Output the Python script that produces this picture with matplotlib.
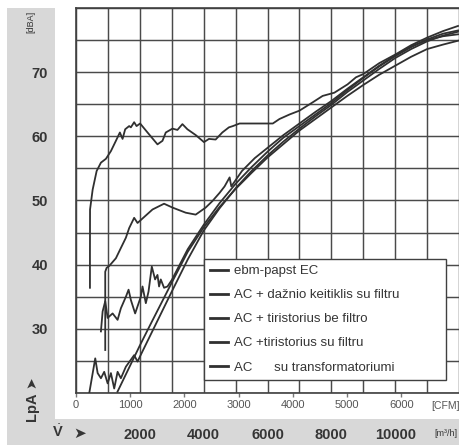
import numpy as np
import matplotlib
matplotlib.use("Agg")
import matplotlib.pyplot as plt
from matplotlib.patches import Rectangle

plt.rcParams['font.family'] = ['Liberation Sans', 'DejaVu Sans']
plt.rcParams['mathtext.fontset'] = 'custom'
plt.rcParams['mathtext.rm'] = 'Liberation Sans'
plt.rcParams['mathtext.bf'] = 'Liberation Sans:bold'

# ---------------- data (x in m3/h, y in dBA) ----------------
labels = ["ebm-papst EC",
          "AC + dažnio keitiklis su filtru",
          "AC + tiristorius be filtro",
          "AC +tiristorius su filtru",
          "AC      su transformatoriumi"]

ec_x = [1300, 2000, 2344, 3000, 3500, 4000, 4500, 5000, 5500, 6000, 6500, 7000,
        7500, 8000, 8500, 9000, 9500, 10000, 10500, 11000, 11500, 11970]
ec_y = [20.2, 27.4, 30.8, 37.2, 42.0, 45.8, 49.0, 51.8, 54.3, 56.7, 58.8, 60.9,
        62.7, 64.5, 66.3, 68.0, 69.6, 71.0, 72.4, 73.6, 74.3, 74.9]

fc_x = [781, 834, 916, 991, 1147, 1303, 1406, 1563, 1647, 1719, 1853, 2031, 2084,
        2188, 2272, 2375, 2478, 2553, 2603, 2656, 2759, 2866, 3000, 3500, 4000,
        4500, 5000, 5500, 6000, 6500, 7000, 7500, 8000, 8500, 9000, 9500, 10000,
        10500, 11000, 11500, 11970]
fc_y = [29.6, 32.7, 34.3, 31.7, 32.4, 31.4, 33.2, 35.0, 36.1, 34.5, 32.4, 35.0, 36.6,
        34.0, 35.8, 39.7, 37.7, 38.4, 36.6, 37.7, 36.4, 36.6, 37.6, 42.4, 46.2,
        49.6, 52.6, 55.2, 57.6, 59.8, 61.6, 63.4, 65.2, 67.2, 69.1, 70.9, 72.5,
        73.9, 75.1, 76.0, 76.5]

tb_x = [437, 437, 440, 522, 647, 781, 938, 1094, 1250, 1375, 1459, 1541, 1666,
        1719, 1822, 1897, 2009, 2241, 2553, 2709, 2813, 3022, 3178, 3334, 3491,
        3750, 4009, 4166, 4375, 4584, 4791, 4916, 5125, 6166, 6375, 6688, 7000,
        7416, 7728, 8094, 8509, 8772, 9000, 9500, 10022, 10500, 11009, 11500, 11969]
tb_y = [36.4, 42.0, 48.6, 51.7, 54.6, 55.9, 56.5, 57.7, 59.3, 60.6, 59.6, 61.1, 61.6,
        61.4, 62.2, 61.6, 62.0, 60.6, 58.75, 59.3, 60.6, 61.2, 61.0, 61.9, 61.1,
        60.2, 59.1, 59.6, 59.5, 60.6, 61.4, 61.6, 62.0, 62.0, 62.7, 63.4, 64.0,
        65.3, 66.3, 66.8, 68.1, 69.2, 69.7, 71.4, 72.8, 74.2, 75.4, 76.4, 77.2]

ts_x = [916, 916, 959, 1041, 1250, 1406, 1563, 1666, 1822, 1928, 2397, 2759, 3022,
        3438, 3750, 4063, 4272, 4500, 4656, 4813, 4866, 5200, 5600, 6000, 6500,
        7000, 7500, 8000, 8500, 9000, 9500, 10000, 10500, 11000, 11500, 11970]
ts_y = [26.7, 38.9, 39.5, 39.8, 41.0, 42.6, 44.2, 45.7, 47.3, 46.5, 48.6, 49.5, 48.9,
        48.1, 47.8, 48.9, 49.9, 51.2, 52.2, 53.6, 52.2, 54.6, 56.6, 58.2, 60.2,
        62.0, 63.8, 65.5, 67.4, 69.2, 71.0, 72.6, 74.0, 75.0, 75.6, 75.9]

tr_x = [416, 603, 678, 781, 884, 991, 1094, 1197, 1303, 1406, 1563, 1822, 1928,
        2084, 3000, 3500, 4000, 4500, 5000, 5500, 6000, 6500, 7000, 7500, 8000,
        8500, 9000, 9500, 10000, 10500, 11000, 11500, 11970]
tr_y = [20.0, 25.4, 23.1, 22.3, 23.3, 21.5, 23.1, 20.7, 23.3, 22.3, 24.1, 25.9, 24.9,
        26.5, 35.8, 40.8, 45.3, 48.8, 51.9, 54.6, 57.0, 59.2, 61.2, 63.1, 64.9,
        66.9, 68.7, 70.5, 72.2, 73.6, 74.8, 75.7, 76.3]

ytick_dba = [30, 40, 50, 60, 70]
xtick_m3h = [2000, 4000, 6000, 8000, 10000]
xtick_cfm = [0, 1000, 2000, 3000, 4000, 5000, 6000]
CFM_TO_M3H = 1.699

# ---------------- figure ----------------
W, H = 459, 445
fig = plt.figure(figsize=(W / 100, H / 100), dpi=100)
fig.patch.set_facecolor('white')

gray = '#d8d8d8'
txt = '#353535'
fig.patches.append(Rectangle((7 / W, 26 / H), 48 / W, 411 / H, transform=fig.transFigure,
                             facecolor=gray, edgecolor='none', zorder=-5))
fig.patches.append(Rectangle((7 / W, 0), (W - 7) / W, 26 / H, transform=fig.transFigure,
                             facecolor=gray, edgecolor='none', zorder=-5))

ax = fig.add_axes([76 / W, 52 / H, 383 / W, 385 / H])
ax.set_xlim(0, 11969)
ax.set_ylim(20, 80)

line_col = '#303030'
series = [(ec_x, ec_y), (fc_x, fc_y), (tb_x, tb_y), (ts_x, ts_y), (tr_x, tr_y)]
handles = []
for (xs, ys), lab in zip(series, labels):
    h, = ax.plot(xs, ys, color=line_col, lw=1.3, label=lab, zorder=3)
    handles.append(h)

# grid
ax.set_xticks(np.arange(0, 12001, 1000))
ax.set_yticks(np.arange(20, 81, 5))
ax.grid(True, color='#4a4a4a', lw=1.05, zorder=1)
ax.set_axisbelow(True)

ax.set_yticklabels([str(v) if v in ytick_dba else '' for v in np.arange(20, 81, 5)],
                   fontweight='bold')
ax.set_xticklabels([str(v) if v in xtick_m3h else '' for v in np.arange(0, 12001, 1000)],
                   fontweight='bold')
ax.tick_params(axis='y', length=0, pad=20, labelsize=10.5, labelcolor=txt)
ax.tick_params(axis='x', length=0, pad=25, labelsize=10.5, labelcolor=txt)
for s in ax.spines.values():
    s.set_color('#404040')
    s.set_linewidth(1.2)
ax.spines['right'].set_visible(False)

sec = ax.secondary_xaxis('bottom', functions=(lambda m: m / CFM_TO_M3H,
                                              lambda c: c * CFM_TO_M3H))
sec.set_xticks(xtick_cfm)
sec.set_xticklabels([str(v) for v in xtick_cfm])
sec.tick_params(axis='x', length=3, width=1, color='#777777', pad=2,
                labelsize=8, labelcolor='#555555')
sec.spines['bottom'].set_visible(False)

leg = ax.legend(handles=handles, labels=labels, loc='upper left',
                bbox_to_anchor=(128 / 383, 134 / 385, 242 / 383, 0.0001),
                mode='expand', fontsize=9.5, frameon=True, fancybox=False,
                edgecolor='#404040', framealpha=1, borderpad=0.45,
                labelspacing=0.9, handlelength=1.35, handletextpad=0.5,
                borderaxespad=0)
leg.get_frame().set_linewidth(1.0)
for t in leg.get_texts():
    t.set_color(txt)
for l in leg.get_lines():
    l.set_linewidth(2.0)

# extra texts
fig.text(446 / W, 1 - 406 / H, '[CFM]', fontsize=7.5, color='#555555', ha='center', va='center')
fig.text(446 / W, 1 - 433 / H, '[m³/h]', fontsize=6.5, color=txt, ha='center', va='center')
fig.text(31 / W, 1 - 22 / H, '[dBA]', fontsize=6.5, color=txt, ha='center', va='center',
         rotation=90)
fig.text(32 / W, 1 - 407 / H, 'LpA', fontsize=10.5, fontweight='bold', color=txt,
         ha='center', va='center', rotation=90)
fig.text(31 / W, 1 - 382 / H, '➤', fontsize=10, color=txt, ha='center', va='center',
         rotation=90, family=['DejaVu Sans'])
fig.text(58 / W, 1 - 432 / H, r'$\dot{\mathbf{V}}$', fontsize=10.5, color=txt,
         ha='center', va='center')
fig.text(80 / W, 1 - 433 / H, '➤', fontsize=11, color=txt, ha='center', va='center',
         family=['DejaVu Sans'])

fig.savefig('out.png', dpi=100)
